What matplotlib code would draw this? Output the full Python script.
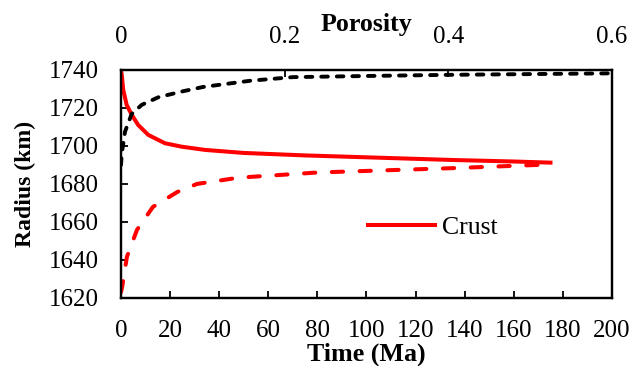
import matplotlib
matplotlib.use("Agg")
import matplotlib.pyplot as plt

#-------------------#
# Data
#-------------------#
crust_time = [0, 0.3, 0.9, 2.3, 4.4, 7, 11.1, 17.9, 24.7, 34.2, 50, 75, 100, 135, 160, 175]
crust_radius = [1739.5, 1737.4, 1729.5, 1721.6, 1716.3, 1711, 1705.8, 1701.4, 1699.6, 1697.9,
                1696.3, 1695, 1694, 1692.6, 1691.8, 1691.2]

inner_time = [0, 0.5, 2.4, 6.5, 13, 23, 31, 48, 80, 135, 170]
inner_radius = [1623, 1626, 1641.6, 1655.8, 1667.9, 1675.8, 1680, 1683.3, 1686, 1688.3, 1690]

poro = [0, 0.0009, 0.0049, 0.013, 0.0253, 0.0456, 0.074, 0.1, 0.158, 0.21, 0.3, 0.4, 0.5, 0.6]
poro_radius = [1690, 1696, 1707.5, 1716.8, 1721.6, 1725.6, 1728.6, 1731, 1734.3, 1736.2,
               1736.8, 1737.4, 1737.8, 1738.2]

time_ticks = list(range(0, 201, 20))
radius_ticks = list(range(1620, 1741, 20))
poro_ticks = [0, 0.2, 0.4, 0.6]
poro_labels = ["0", "0.2", "0.4", "0.6"]

#-------------------#
# Style
#-------------------#
plt.rcParams['font.family'] = ['Liberation Serif', 'DejaVu Serif']
fs = 18
fs_lab = 18.7

fig = plt.figure(figsize=(6.42, 3.66), dpi=100)
ax = fig.add_axes([0.1885, 0.186, 0.7645, 0.623])

ax.plot(crust_time, crust_radius, color='red', lw=2.9, label='Crust')
ax.plot(inner_time, inner_radius, color='red', lw=2.9, dashes=(2.8, 4.1),
        dash_capstyle='round')

ax.set_xlim(0, 200)
ax.set_ylim(1620, 1740)
ax.set_xticks(time_ticks)
ax.set_yticks(radius_ticks)
ax.tick_params(direction='in', length=5, width=1.3, labelsize=fs, pad=16)
ax.set_xlabel("Time (Ma)", fontsize=fs_lab, fontweight='bold', labelpad=0)
ax.set_ylabel("Radius (km)", fontsize=17, fontweight='bold', labelpad=9)

ax2 = ax.twiny()
ax2.plot(poro, poro_radius, color='black', lw=2.8, dashes=(1.7, 2.3),
         dash_capstyle='round')
ax2.set_xlim(0, 0.6)
ax2.set_xticks(poro_ticks)
ax2.set_xticklabels(poro_labels)
ax2.tick_params(direction='in', length=5, width=1.3, labelsize=fs, pad=16)
ax2.set_xlabel("Porosity", fontsize=fs_lab, fontweight='bold', labelpad=-4)

for a in (ax, ax2):
    for s in a.spines.values():
        s.set_linewidth(1.6)

leg = ax.legend(loc='center left', bbox_to_anchor=(0.503, 0.307), frameon=False,
                fontsize=18.5, handlelength=2.6, handletextpad=0.3, borderpad=0,
                borderaxespad=0)

fig.savefig("out.png", dpi=100)
